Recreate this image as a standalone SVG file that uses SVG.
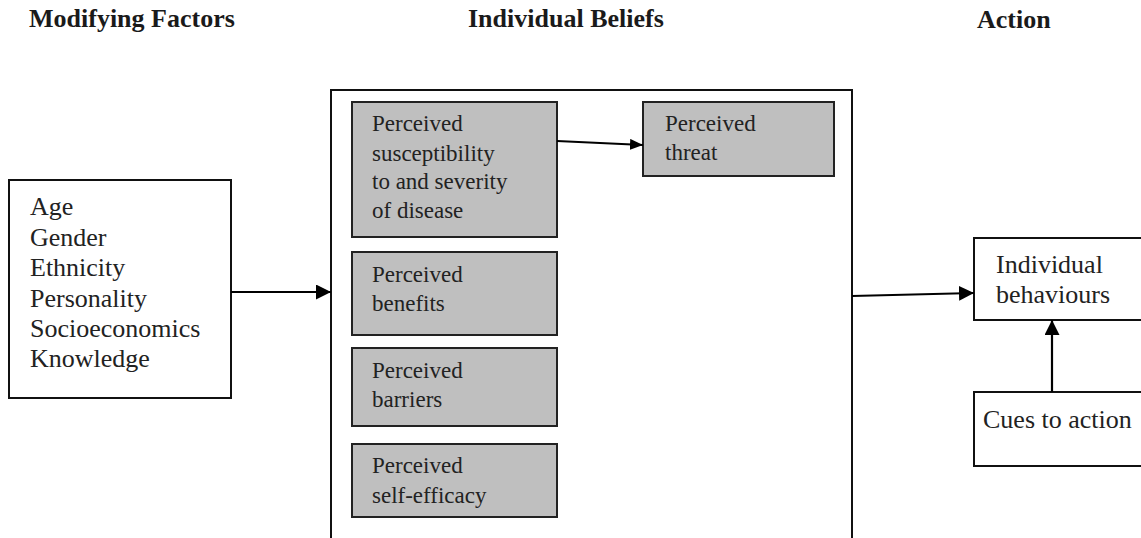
<svg xmlns="http://www.w3.org/2000/svg" width="1141" height="538" viewBox="0 0 1141 538">
  <style>
    text { font-family: "Liberation Serif", "Times New Roman", serif; fill: #222; }
    .head { font-size: 26px; font-weight: bold; fill: #1a1a1a; }
    .big { font-size: 26px; }
    .small { font-size: 23px; }
    .plain { fill: #fff; stroke: #111; stroke-width: 2; }
    .belief { fill: #bfbfbf; stroke: #222; stroke-width: 2; }
    .frame { fill: none; stroke: #111; stroke-width: 2; }
    .conn { fill: none; stroke: #000; stroke-width: 2.2; }
  </style>
  <defs>
    <marker id="arrow" markerUnits="userSpaceOnUse" markerWidth="16" markerHeight="16" refX="15" refY="7.5" orient="auto">
      <path d="M0,0 L15,7.5 L0,15 z" fill="#000"/>
    </marker>
    <marker id="arrowSmall" markerUnits="userSpaceOnUse" markerWidth="14" markerHeight="12" refX="13" refY="5.5" orient="auto">
      <path d="M0,0 L13,5.5 L0,11 z" fill="#000"/>
    </marker>
  </defs>

  <!-- Column headings -->
  <g id="headings">
    <text class="head" x="29" y="27">Modifying Factors</text>
    <text class="head" x="468" y="27">Individual Beliefs</text>
    <text class="head" x="977" y="28">Action</text>
  </g>

  <!-- Modifying factors -->
  <g id="modifying-factors">
    <rect class="plain" x="9" y="180" width="222" height="218"/>
    <text class="big" x="30" y="215">Age</text>
    <text class="big" x="30" y="246">Gender</text>
    <text class="big" x="30" y="276">Ethnicity</text>
    <text class="big" x="30" y="307">Personality</text>
    <text class="big" x="30" y="337">Socioeconomics</text>
    <text class="big" x="30" y="367">Knowledge</text>
  </g>

  <!-- Individual beliefs frame (open past the bottom edge) -->
  <g id="individual-beliefs">
    <path class="frame" d="M331,545 L331,90 L852,90 L852,545"/>
  </g>

  <g id="susceptibility-severity">
    <rect class="belief" x="352" y="102" width="205" height="135"/>
    <text class="small" x="372" y="131">Perceived</text>
    <text class="small" x="372" y="161">susceptibility</text>
    <text class="small" x="372" y="189">to and severity</text>
    <text class="small" x="372" y="218">of disease</text>
  </g>

  <g id="perceived-threat">
    <rect class="belief" x="643" y="102" width="191" height="74"/>
    <text class="small" x="665" y="131">Perceived</text>
    <text class="small" x="665" y="160">threat</text>
  </g>

  <g id="perceived-benefits">
    <rect class="belief" x="352" y="252" width="205" height="83"/>
    <text class="small" x="372" y="282">Perceived</text>
    <text class="small" x="372" y="311">benefits</text>
  </g>

  <g id="perceived-barriers">
    <rect class="belief" x="352" y="348" width="205" height="78"/>
    <text class="small" x="372" y="378">Perceived</text>
    <text class="small" x="372" y="407">barriers</text>
  </g>

  <g id="perceived-self-efficacy">
    <rect class="belief" x="352" y="444" width="205" height="73"/>
    <text class="small" x="372" y="473">Perceived</text>
    <text class="small" x="372" y="503">self-efficacy</text>
  </g>

  <!-- Action -->
  <g id="individual-behaviours">
    <rect class="plain" x="974" y="238" width="180" height="82"/>
    <text class="big" x="996" y="273">Individual</text>
    <text class="big" x="996" y="303">behaviours</text>
  </g>

  <g id="cues-to-action">
    <rect class="plain" x="974" y="392" width="180" height="74"/>
    <text class="big" x="983" y="428">Cues to action</text>
  </g>

  <!-- Connectors -->
  <g id="connectors">
    <line class="conn" x1="231" y1="292" x2="331" y2="292" marker-end="url(#arrow)"/>
    <line class="conn" x1="557" y1="141" x2="643" y2="145" marker-end="url(#arrowSmall)"/>
    <line class="conn" x1="852" y1="296" x2="974" y2="293" marker-end="url(#arrow)"/>
    <line class="conn" x1="1052" y1="392" x2="1052" y2="320" marker-end="url(#arrow)"/>
  </g>
</svg>
